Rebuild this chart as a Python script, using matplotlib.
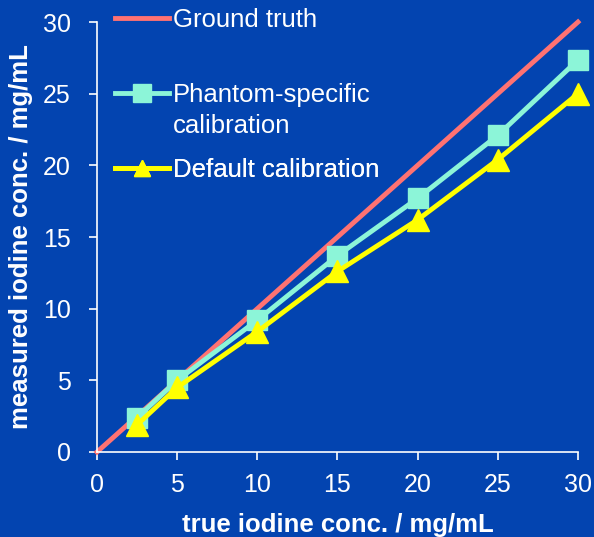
import matplotlib.pyplot as plt
from matplotlib.lines import Line2D

x_truth = [0, 30]
y_truth = [0, 30]
x_conc = [2.5, 5, 10, 15, 20, 25, 30]
phantom_cal = [2.4, 5.0, 9.2, 13.7, 17.7, 22.1, 27.35]
default_cal = [1.9, 4.5, 8.4, 12.6, 16.2, 20.4, 25.0]

bg = '#0344B0'
c_truth = '#FF7272'
c_phantom = '#8CF5D8'
c_default = '#FFFF00'
plt.rcParams['font.family'] = ['Liberation Sans', 'DejaVu Sans']

fig = plt.figure(figsize=(5.94, 5.37), dpi=100, facecolor=bg)
ax = fig.add_axes([0.1633, 0.1583, 0.8097, 0.8007], facecolor=bg)

ax.plot(x_truth, y_truth, color=c_truth, linewidth=3.5, zorder=2, clip_on=False)
ax.plot(x_conc, phantom_cal, color=c_phantom, linewidth=3.5, marker='s', markersize=15,
        zorder=3, clip_on=False)
ax.plot(x_conc, default_cal, color=c_default, linewidth=3.5, marker='^', markersize=16,
        zorder=4, clip_on=False)

ax.set_xlim(0, 30)
ax.set_ylim(0, 30)
ax.set_xticks(range(0, 31, 5))
ax.set_yticks(range(0, 31, 5))
for s in ['top', 'right']:
    ax.spines[s].set_visible(False)
for s in ['left', 'bottom']:
    ax.spines[s].set_color('white')
    ax.spines[s].set_linewidth(1.2)
ax.tick_params(colors='white', direction='out', length=6, width=1.2, labelsize=18)
ax.tick_params(axis='x', pad=9)
ax.tick_params(axis='y', pad=13)

ax.set_xlabel('true iodine conc. / mg/mL', color='white', fontsize=18.5, fontweight='bold', labelpad=12)
ax.set_ylabel('measured iodine conc. / mg/mL', color='white', fontsize=18.5, fontweight='bold', labelpad=7)

# legend rows (PowerPoint style: handle next to first line of each label)
rows = [
    (Line2D([], [], color=c_truth, linewidth=3.5), 'Ground truth', 1.005),
    (Line2D([], [], color=c_phantom, linewidth=3.5, marker='s', markersize=13), 'Phantom-specific', 0.831),
    (Line2D([], [], color='none'), 'calibration', 0.758),
    (Line2D([], [], color=c_default, linewidth=3.5, marker='^', markersize=12), 'Default calibration', 0.655),
]
for h, lab, ypos in rows:
    leg = ax.legend([h], [lab], loc='center left', bbox_to_anchor=(0.037, ypos), frameon=False,
                    fontsize=18.5, handlelength=2.1, handletextpad=0.15, borderpad=0,
                    borderaxespad=0, labelcolor='white')
    ax.add_artist(leg)

fig.savefig('out.png', dpi=100, facecolor=bg)
